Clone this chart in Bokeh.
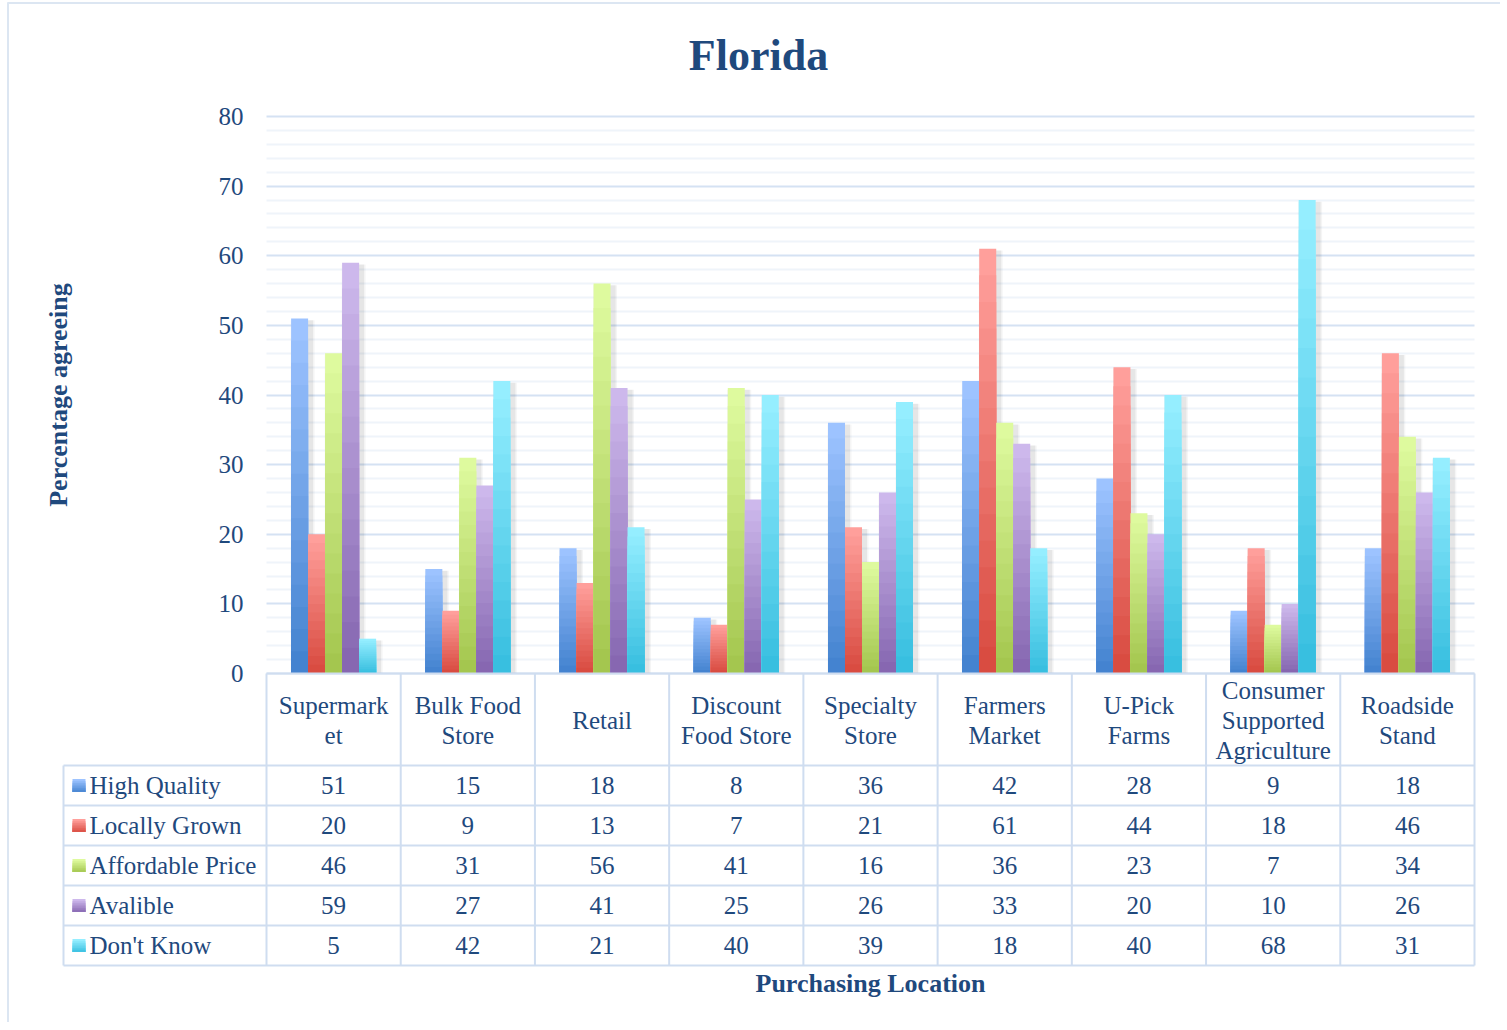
from bokeh.plotting import figure
from bokeh.models import Range1d, LinearAxis, FixedTicker, Grid
from bokeh.core.properties import value
from bokeh.embed import file_html
from bokeh.resources import INLINE

# ---------------- data ----------------
categories = ["Supermarket", "Bulk Food Store", "Retail", "Discount Food Store",
              "Specialty Store", "Farmers Market", "U-Pick Farms",
              "Consumer Supported Agriculture", "Roadside Stand"]
category_labels = ["Supermark\net", "Bulk Food\nStore", "Retail", "Discount\nFood Store",
                   "Specialty\nStore", "Farmers\nMarket", "U-Pick\nFarms",
                   "Consumer\nSupported\nAgriculture", "Roadside\nStand"]
series_names = ["High Quality", "Locally Grown", "Affordable Price", "Avalible", "Don't Know"]
high_quality = [51, 15, 18, 8, 36, 42, 28, 9, 18]
locally_grown = [20, 9, 13, 7, 21, 61, 44, 18, 46]
affordable_price = [46, 31, 56, 41, 16, 36, 23, 7, 34]
avalible = [59, 27, 41, 25, 26, 33, 20, 10, 26]
dont_know = [5, 42, 21, 40, 39, 18, 40, 68, 31]
series_values = [high_quality, locally_grown, affordable_price, avalible, dont_know]
y_ticks = [0, 10, 20, 30, 40, 50, 60, 70, 80]

# ---------------- style ----------------
FONT = "Liberation Serif"
TEXT = "#1F497D"
series_colors = [("#9DC3FF", "#3E7FCD"), ("#FF9F9B", "#D6463B"), ("#DEFA9E", "#A0C34A"),
                 ("#CDB8EC", "#8262AD"), ("#95EEFF", "#32BCDE")]
TABLE_LINE = "#CFDDF0"

# ---------------- layout (screen pixels) ----------------
W, H = 1500, 1022
PLOT_L, PLOT_R = 266, 1474
ZERO_Y, TOP_Y = 673, 116
YMAX = y_ticks[-1]
n_cat = len(categories)
CW = (PLOT_R - PLOT_L) / n_cat
PXV = (ZERO_Y - TOP_Y) / YMAX
BW = 17.0 / CW

x_range = Range1d((0 - PLOT_L) / CW, (W - PLOT_L) / CW)
y_range = Range1d(-(H - ZERO_Y) / PXV, (ZERO_Y - 0) / PXV)

p = figure(width=W, height=H, x_range=x_range, y_range=y_range,
           output_backend="svg", toolbar_location=None,
           x_axis_location=None, y_axis_location=None,
           min_border_left=0, min_border_right=0, min_border_top=0,
           min_border_bottom=0)
p.extra_x_ranges = {"px": Range1d(0, W)}
p.extra_y_ranges = {"py": Range1d(H, 0)}
p.outline_line_color = None
p.background_fill_color = "white"
p.border_fill_color = "white"
# hide the default grids; a bounded grid is added below
for dg in list(p.xgrid) + list(p.ygrid):
    dg.visible = False


def mix(c1, c2, t):
    a = [int(c1[i:i + 2], 16) for i in (1, 3, 5)]
    b = [int(c2[i:i + 2], 16) for i in (1, 3, 5)]
    return "#%02x%02x%02x" % tuple(round(a[k] * t + b[k] * (1 - t)) for k in range(3))


# ---------------- grid ----------------
minor = [v for v in range(0, YMAX + 1, 2) if v % 10]
if "cross_bounds" in Grid.properties():
    g = Grid(dimension=1, ticker=FixedTicker(ticks=y_ticks, minor_ticks=minor),
             bounds=(0, YMAX), cross_bounds=(0, n_cat),
             grid_line_color="#D5E2F3", grid_line_width=2,
             minor_grid_line_color="#EFF4FA", minor_grid_line_width=2)
    p.add_layout(g, "center")
else:
    p.segment(x0=0, x1=n_cat, y0=minor, y1=minor, line_color="#EFF4FA", line_width=2)
    p.segment(x0=0, x1=n_cat, y0=y_ticks, y1=y_ticks, line_color="#D5E2F3", line_width=2)

# ---------------- bars ----------------
centers = [i + 0.5 for i in range(n_cat)]
N = 16
for s, vals in enumerate(series_values):
    xs = [c + (s - 2) * BW for c in centers]
    for w_extra, a in ((7, 0.04), (4, 0.06)):
        p.vbar(x=[x + 3.0 / CW for x in xs], top=[v - 0.25 for v in vals], bottom=0,
               width=BW + w_extra / CW, fill_color="#000000", fill_alpha=a, line_color=None)
for s, vals in enumerate(series_values):
    xs = [c + (s - 2) * BW for c in centers]
    top_c, bot_c = series_colors[s]
    for k in range(N):
        frac = (N - k) / N
        col = mix(top_c, bot_c, frac)
        p.vbar(x=xs, top=[v * frac for v in vals], bottom=0, width=BW,
               fill_color=col, line_color=None)

# ---------------- data table geometry ----------------
HDR_T, HDR_H, ROW_H = 673, 92, 40
LABEL_L = (63 - PLOT_L) / CW
row_tops = [HDR_T + HDR_H + i * ROW_H for i in range(len(series_names) + 1)]
row_centers = [t + ROW_H / 2 for t in row_tops[:-1]]
tbl_bottom = row_tops[-1]

# ---------------- axes ----------------
yaxis = LinearAxis(fixed_location=0, bounds=(0, YMAX), ticker=FixedTicker(ticks=y_ticks),
                   axis_line_color=None, major_tick_line_color=None, minor_tick_line_color=None,
                   major_tick_out=0, major_tick_in=0, major_label_standoff=23,
                   major_label_text_font=FONT, major_label_text_font_size="25px",
                   major_label_text_color=TEXT,
                   axis_label="Percentage agreeing", axis_label_standoff=143,
                   axis_label_text_font=FONT, axis_label_text_font_size="26px",
                   axis_label_text_font_style="bold", axis_label_text_color=TEXT)
p.add_layout(yaxis, "left")

xaxis = LinearAxis(fixed_location=(ZERO_Y - tbl_bottom) / PXV, bounds=(0, n_cat),
                   ticker=FixedTicker(ticks=[]),
                   axis_line_color=None, major_tick_line_color=None, minor_tick_line_color=None,
                   major_tick_out=0, major_tick_in=0, major_label_text_font_size="0px",
                   major_label_standoff=0,
                   axis_label="Purchasing Location", axis_label_standoff=3,
                   axis_label_text_font=FONT, axis_label_text_font_size="26px",
                   axis_label_text_font_style="bold", axis_label_text_color=TEXT)
p.add_layout(xaxis, "below")

# ---------------- title ----------------
p.text(x=[758], y=[55], text=["Florida"], x_range_name="px", y_range_name="py",
       text_font=value(FONT), text_font_size="44px", text_font_style="bold",
       text_color=TEXT, text_align="center", text_baseline="middle")

# ---------------- data table ----------------
p.segment(x0=[0], x1=[n_cat], y0=[HDR_T], y1=[HDR_T], y_range_name="py",
          line_color=TABLE_LINE, line_width=2)
p.segment(x0=LABEL_L, x1=n_cat, y0=row_tops, y1=row_tops, y_range_name="py",
          line_color=TABLE_LINE, line_width=2)
p.segment(x0=list(range(n_cat + 1)), x1=list(range(n_cat + 1)), y0=HDR_T, y1=tbl_bottom,
          y_range_name="py", line_color=TABLE_LINE, line_width=2)
p.segment(x0=[LABEL_L], x1=[LABEL_L], y0=[row_tops[0]], y1=[tbl_bottom],
          y_range_name="py", line_color=TABLE_LINE, line_width=2)

p.text(x=centers, y=[HDR_T + HDR_H / 2 + 1] * n_cat, text=category_labels, y_range_name="py",
       text_font=value(FONT), text_font_size="25px", text_color=TEXT,
       text_align="center", text_baseline="middle", text_line_height=1.1)

for i, name in enumerate(series_names):
    cy = row_centers[i]
    top_c, bot_c = series_colors[i]
    for k in range(6):
        frac = (6 - k) / 6
        p.quad(left=[72], right=[85], bottom=[cy + 6.5], top=[cy + 6.5 - 13 * frac],
               x_range_name="px", y_range_name="py",
               fill_color=mix(top_c, bot_c, frac), line_color=None)
    p.text(x=[89], y=[cy], text=[name], x_range_name="px", y_range_name="py",
           text_font=value(FONT), text_font_size="25px", text_color=TEXT,
           text_align="left", text_baseline="middle")
    p.text(x=centers, y=[cy] * n_cat, text=[str(v) for v in series_values[i]],
           y_range_name="py", text_font=value(FONT), text_font_size="25px",
           text_color=TEXT, text_align="center", text_baseline="middle")

# outer chart border (left and top)
p.segment(x0=[7.5, 7], x1=[7.5, W], y0=[2, 2.5], y1=[H, 2.5],
          x_range_name="px", y_range_name="py", line_color="#DCE6F2", line_width=2)

open("out.html", "w").write(file_html(p, INLINE))
